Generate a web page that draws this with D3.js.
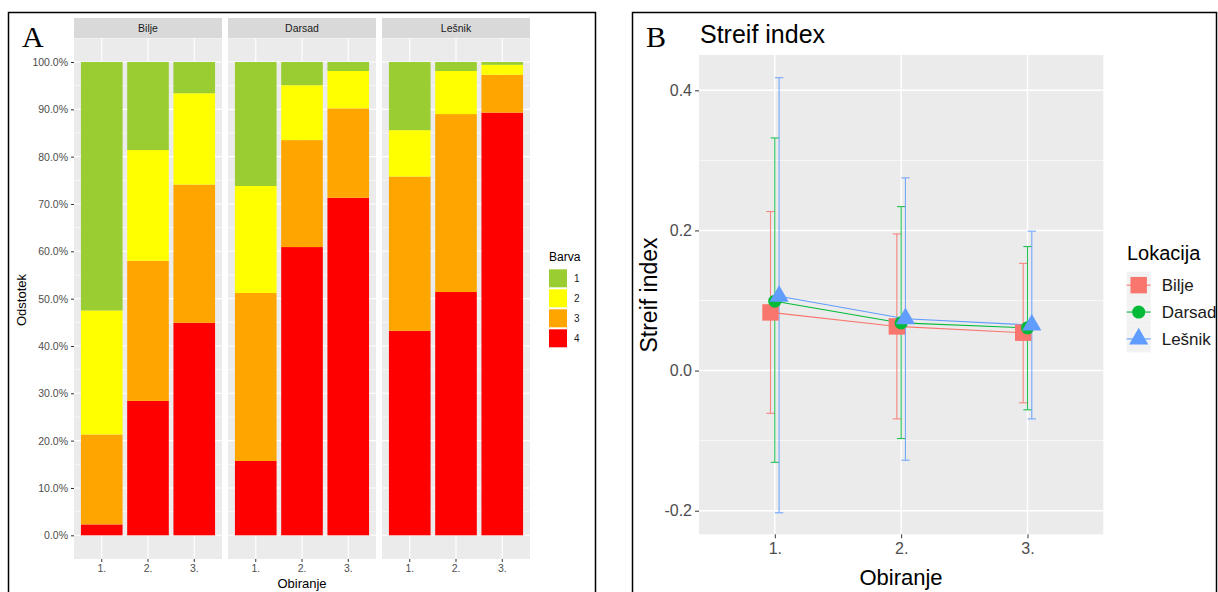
<!DOCTYPE html>
<html>
<head>
<meta charset="utf-8">
<script src="https://cdn.jsdelivr.net/npm/d3@7"></script>
<style>
  body { margin: 0; background: #fff; }
  text { font-family: "Liberation Sans", Arial, sans-serif; }
</style>
</head>
<body>
<svg id="fig" width="1218" height="592"></svg>
<script>
// ---- panel A data (shares in %, order: Bilje 1-3, Darsad 1-3, Lešnik 1-3)
const lokacije = ["Bilje", "Darsad", "Lešnik"];
const obiranja = ["1.", "2.", "3."];
const barve = ["1", "2", "3", "4"];
const barvaColors = ["#9ACD32", "#FFFF00", "#FFA500", "#FF0000"];
const barva1 = [52.5, 18.6, 6.6, 26.2, 4.9, 1.9, 14.4, 1.9, 0.6];
const barva2 = [26.2, 23.4, 19.3, 22.6, 11.6, 7.9, 9.8, 9.1, 2.1];
const barva3 = [19.0, 29.6, 29.2, 35.5, 22.6, 18.9, 32.6, 37.6, 8.0];
const barva4 = [2.3, 28.4, 44.9, 15.7, 60.9, 71.3, 43.2, 51.4, 89.3];
const yTicksA = [0, 0.1, 0.2, 0.3, 0.4, 0.5, 0.6, 0.7, 0.8, 0.9, 1.0];

// ---- panel B data
const obiranjeB = [1, 2, 3];
const lokColors = ["#F8766D", "#00BA38", "#619CFF"];
const biljeMean = [0.083, 0.063, 0.054];
const biljeLo = [-0.061, -0.069, -0.046];
const biljeHi = [0.227, 0.195, 0.153];
const darsadMean = [0.099, 0.068, 0.061];
const darsadLo = [-0.131, -0.097, -0.056];
const darsadHi = [0.332, 0.234, 0.177];
const lesnikMean = [0.106, 0.074, 0.065];
const lesnikLo = [-0.203, -0.128, -0.069];
const lesnikHi = [0.418, 0.275, 0.199];
const yTicksB = [-0.2, 0, 0.2, 0.4];

const svg = d3.select("#fig");

// ================= PANEL A =================
const A = svg.append("g");
A.append("rect").attr("x", 8.5).attr("y", 12.5).attr("width", 587).attr("height", 600)
  .attr("fill", "none").attr("stroke", "#000").attr("stroke-width", 1.5);
A.append("text").text("A").attr("x", 22).attr("y", 46.5)
  .style("font-family", "'Liberation Serif', 'Times New Roman', serif").style("font-size", "30px");

const facetX = d3.scaleBand().domain(lokacije).range([74, 530]).paddingInner(6 / 154);
const obX = d3.scaleBand().domain(obiranja).range([0, facetX.bandwidth()]).paddingInner(0.1).paddingOuter(0.15);
const yA = d3.scaleLinear().domain([0, 1]).range([535.3, 62]);

const rows = [];
lokacije.forEach((l, li) => obiranja.forEach((o, oi) => {
  const k = li * 3 + oi;
  rows.push({ lok: l, ob: o, "1": barva1[k], "2": barva2[k], "3": barva3[k], "4": barva4[k] });
}));
const stacked = d3.stack().keys(["4", "3", "2", "1"])(rows.map(r => {
  const s = r["1"] + r["2"] + r["3"] + r["4"];
  return { lok: r.lok, ob: r.ob, "1": r["1"] / s, "2": r["2"] / s, "3": r["3"] / s, "4": r["4"] / s };
}));
const colA = d3.scaleOrdinal().domain(barve).range(barvaColors);

lokacije.forEach(l => {
  const g = A.append("g").attr("transform", "translate(" + facetX(l) + ",0)");
  const w = facetX.bandwidth();
  // strip
  g.append("rect").attr("x", 0).attr("y", 18).attr("width", w).attr("height", 20).attr("fill", "#D9D9D9");
  g.append("text").text(l).attr("x", w / 2).attr("y", 32).attr("text-anchor", "middle")
    .style("font-size", "10.5px").style("fill", "#1a1a1a");
  // panel
  g.append("rect").attr("x", 0).attr("y", yA(1.05)).attr("width", w).attr("height", yA(-0.05) - yA(1.05)).attr("fill", "#EBEBEB");
  g.selectAll(".minor").data(d3.range(0.05, 1.0, 0.1)).enter().append("line")
    .attr("x1", 0).attr("x2", w).attr("y1", d => yA(d)).attr("y2", d => yA(d))
    .attr("stroke", "#fff").attr("stroke-width", 0.6);
  g.selectAll(".major").data(yTicksA).enter().append("line")
    .attr("x1", 0).attr("x2", w).attr("y1", d => yA(d)).attr("y2", d => yA(d))
    .attr("stroke", "#fff").attr("stroke-width", 1.1);
  g.selectAll(".vmajor").data(obiranja).enter().append("line")
    .attr("x1", d => obX(d) + obX.bandwidth() / 2).attr("x2", d => obX(d) + obX.bandwidth() / 2)
    .attr("y1", yA(1.05)).attr("y2", yA(-0.05)).attr("stroke", "#fff").attr("stroke-width", 1.1);
  // bars
  stacked.forEach(layer => {
    g.selectAll(".b" + layer.key).data(layer.filter(d => d.data.lok === l)).enter().append("rect")
      .attr("x", d => obX(d.data.ob)).attr("width", obX.bandwidth())
      .attr("y", d => yA(d[1])).attr("height", d => yA(d[0]) - yA(d[1]))
      .attr("fill", colA(layer.key));
  });
  // x axis
  const ax = g.append("g").attr("transform", "translate(0," + yA(-0.05) + ")")
    .call(d3.axisBottom(obX).tickSize(3).tickPadding(3));
  ax.select(".domain").remove();
  ax.selectAll("line").attr("stroke", "#333");
  ax.selectAll("text").style("font-size", "10.5px").style("fill", "#4d4d4d").style("font-family", "'Liberation Sans', Arial, sans-serif");
});

const ayA = A.append("g").attr("transform", "translate(74,0)")
  .call(d3.axisLeft(yA).tickValues(yTicksA).tickFormat(d3.format(".1%")).tickSize(3).tickPadding(3));
ayA.select(".domain").remove();
ayA.selectAll("line").attr("stroke", "#333");
ayA.selectAll("text").style("font-size", "10.5px").style("fill", "#4d4d4d").style("font-family", "'Liberation Sans', Arial, sans-serif");

A.append("text").text("Odstotek").attr("transform", "translate(26,300) rotate(-90)")
  .attr("text-anchor", "middle").style("font-size", "13px");
A.append("text").text("Obiranje").attr("x", 302).attr("y", 588)
  .attr("text-anchor", "middle").style("font-size", "13px");

// legend A
A.append("text").text("Barva").attr("x", 549).attr("y", 261).style("font-size", "12px");
const legA = A.append("g").attr("transform", "translate(549,269.3)");
barve.forEach((b, i) => {
  legA.append("rect").attr("x", 0).attr("y", i * 20).attr("width", 18).attr("height", 18).attr("fill", colA(b));
  legA.append("text").text(b).attr("x", 25).attr("y", i * 20 + 9).attr("dy", "0.35em").style("font-size", "10px").style("fill", "#1a1a1a");
});

// ================= PANEL B =================
const B = svg.append("g");
B.append("rect").attr("x", 632.5).attr("y", 12.5).attr("width", 584).attr("height", 600)
  .attr("fill", "none").attr("stroke", "#000").attr("stroke-width", 1.5);
B.append("text").text("B").attr("x", 646).attr("y", 46.5)
  .style("font-family", "'Liberation Serif', 'Times New Roman', serif").style("font-size", "30px");
B.append("text").text("Streif index").attr("x", 700).attr("y", 42.5).style("font-size", "25px");

const xB = d3.scaleLinear().domain([0.4, 3.6]).range([699, 1103.3]);
const yB = d3.scaleLinear().domain([-0.2337, 0.4504]).range([534.3, 55]);
const dodge = d3.scalePoint().domain(lokacije).range([-4.3, 4.3]);

B.append("rect").attr("x", xB(0.4)).attr("y", yB(0.4504)).attr("width", xB(3.6) - xB(0.4))
  .attr("height", yB(-0.2337) - yB(0.4504)).attr("fill", "#EBEBEB");
B.selectAll(".minorB").data([-0.1, 0.1, 0.3]).enter().append("line")
  .attr("x1", xB(0.4)).attr("x2", xB(3.6)).attr("y1", d => yB(d)).attr("y2", d => yB(d))
  .attr("stroke", "#fff").attr("stroke-width", 0.7);
B.selectAll(".majorB").data(yTicksB).enter().append("line")
  .attr("x1", xB(0.4)).attr("x2", xB(3.6)).attr("y1", d => yB(d)).attr("y2", d => yB(d))
  .attr("stroke", "#fff").attr("stroke-width", 1.4);
B.selectAll(".vmajorB").data(obiranjeB).enter().append("line")
  .attr("x1", d => xB(d)).attr("x2", d => xB(d)).attr("y1", yB(0.4504)).attr("y2", yB(-0.2337))
  .attr("stroke", "#fff").attr("stroke-width", 1.4);

const series = [
  { lok: "Bilje", mean: biljeMean, lo: biljeLo, hi: biljeHi, sym: d3.symbolSquare, size: 270 },
  { lok: "Darsad", mean: darsadMean, lo: darsadLo, hi: darsadHi, sym: d3.symbolCircle, size: 135 },
  { lok: "Lešnik", mean: lesnikMean, lo: lesnikLo, hi: lesnikHi, sym: d3.symbolTriangle, size: 160 }
];

// error bars
series.forEach((s, si) => {
  const c = lokColors[si];
  const eb = B.append("g").attr("stroke", c).attr("stroke-width", 1.1).attr("opacity", 0.85);
  obiranjeB.forEach((o, i) => {
    const x = xB(o) + dodge(s.lok);
    eb.append("line").attr("x1", x).attr("x2", x).attr("y1", yB(s.hi[i])).attr("y2", yB(s.lo[i]));
    eb.append("line").attr("x1", x - 4.2).attr("x2", x + 4.2).attr("y1", yB(s.hi[i])).attr("y2", yB(s.hi[i]));
    eb.append("line").attr("x1", x - 4.2).attr("x2", x + 4.2).attr("y1", yB(s.lo[i])).attr("y2", yB(s.lo[i]));
  });
});
// lines
const lineB = d3.line().x(d => d.x).y(d => d.y);
series.forEach((s, si) => {
  const pts = obiranjeB.map((o, i) => ({ x: xB(o) + dodge(s.lok), y: yB(s.mean[i]) }));
  B.append("path").attr("d", lineB(pts)).attr("fill", "none").attr("stroke", lokColors[si]).attr("stroke-width", 1.1);
});
// points
series.forEach((s, si) => {
  B.selectAll(".pt" + si).data(obiranjeB).enter().append("path")
    .attr("d", d3.symbol().type(s.sym).size(s.size))
    .attr("transform", (o, i) => "translate(" + (xB(o) + dodge(s.lok)) + "," + yB(s.mean[i]) + ")")
    .attr("fill", lokColors[si]);
});

// axes B
const axB = B.append("g").attr("transform", "translate(0," + yB(-0.2337) + ")")
  .call(d3.axisBottom(xB).tickValues(obiranjeB).tickFormat(d => d + ".").tickSize(4).tickPadding(4));
axB.select(".domain").remove();
axB.selectAll("line").attr("stroke", "#333");
axB.selectAll("text").style("font-size", "16px").style("fill", "#4d4d4d").style("font-family", "'Liberation Sans', Arial, sans-serif");

const fmtB = d3.format(".1f");
const ayB = B.append("g").attr("transform", "translate(699,0)")
  .call(d3.axisLeft(yB).tickValues(yTicksB).tickFormat(d => fmtB(d).replace("\u2212", "-")).tickSize(4).tickPadding(3));
ayB.select(".domain").remove();
ayB.selectAll("line").attr("stroke", "#333");
ayB.selectAll("text").style("font-size", "16px").style("fill", "#4d4d4d").style("font-family", "'Liberation Sans', Arial, sans-serif");

B.append("text").text("Streif index").attr("transform", "translate(657,295) rotate(-90)")
  .attr("text-anchor", "middle").style("font-size", "23px");
B.append("text").text("Obiranje").attr("x", 901).attr("y", 585)
  .attr("text-anchor", "middle").style("font-size", "22px");

// legend B
B.append("text").text("Lokacija").attr("x", 1127).attr("y", 260).style("font-size", "20px");
const legB = B.append("g").attr("transform", "translate(1126.7,271.7)");
series.forEach((s, i) => {
  const k = legB.append("g").attr("transform", "translate(0," + i * 26.9 + ")");
  k.append("rect").attr("width", 24).attr("height", 26.9).attr("fill", "#F2F2F2");
  k.append("line").attr("x1", 0).attr("x2", 24).attr("y1", 13.45).attr("y2", 13.45)
    .attr("stroke", lokColors[i]).attr("stroke-width", 1.1);
  k.append("path").attr("d", d3.symbol().type(s.sym).size(s.size))
    .attr("transform", "translate(12,13.45)").attr("fill", lokColors[i]);
  k.append("text").text(s.lok).attr("x", 35).attr("y", 13.45).attr("dy", "0.35em")
    .style("font-size", "17px").style("fill", "#1a1a1a");
});
</script>
</body>
</html>
